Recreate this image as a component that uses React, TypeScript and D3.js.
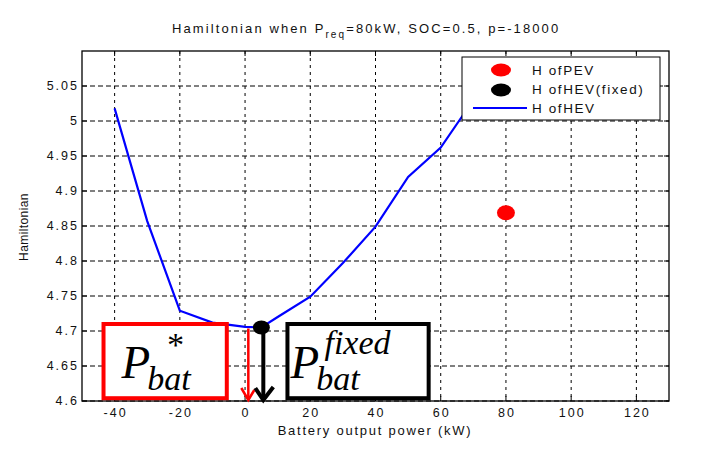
import React from 'react';
import * as d3 from 'd3';

// Hamiltonian of the HEV over battery output power (kW)
const hevPower = [-40, -30, -20, -10, 0, 5, 10, 20, 30, 40, 50, 60, 70];
const hevH = [5.018, 4.857, 4.729, 4.712, 4.706, 4.705, 4.72, 4.749, 4.797, 4.849, 4.92, 4.962, 5.03];

// single points
const pevPoint = [80, 4.869];
const fixedPoint = [5, 4.705];

// tick values
const xTicks = [-40, -20, 0, 20, 40, 60, 80, 100, 120];
const yTicks = [4.6, 4.65, 4.7, 4.75, 4.8, 4.85, 4.9, 4.95, 5, 5.05];

// annotation boxes in data units: [x0, x1, y0, y1]
const optBox = [-43.4, -5.6, 4.604, 4.71];
const fixedBox = [13, 56.3, 4.604, 4.71];
const optArrowX = 1;
const fixedArrowX = 5.6;

const W = 701;
const H = 456;
const margin = { left: 82, right: 32, top: 51, bottom: 55 };
const sans = '"Liberation Sans", Arial, sans-serif';
const serif = '"Liberation Serif", "Times New Roman", serif';

const App = () => {
    const x = d3.scaleLinear().domain([-50, 130]).range([margin.left, W - margin.right]);
    const y = d3.scaleLinear().domain([4.6, 5.1]).range([H - margin.bottom, margin.top]);

    const line = d3.line<number>()
        .x((d, i) => x(hevPower[i]))
        .y(d => y(d));

    const x0 = x.range()[0], x1 = x.range()[1];
    const y0 = y.range()[0], y1 = y.range()[1];

    const boxRect = (b: number[]) => ({
        x: x(b[0]), y: y(b[3]), width: x(b[1]) - x(b[0]), height: y(b[2]) - y(b[3])
    });
    const rb = boxRect(optBox);
    const fb = boxRect(fixedBox);

    // legend geometry
    const lg = { x: 462, y: 57, w: 198, h: 63 };

    return (
        <svg width={W} height={H} style={{ position: 'absolute', left: 0, top: 0, background: '#fff' }}>
            <defs>
                <clipPath id="plot">
                    <rect x={x0} y={y1} width={x1 - x0} height={y0 - y1} />
                </clipPath>
            </defs>

            {/* title */}
            <text x={172} y={33} fontFamily={sans} fontSize={13} letterSpacing={2.1} fill="#111">
                Hamiltonian when P<tspan dy={5} fontSize={10}>req</tspan><tspan dy={-5}>=80kW, SOC=0.5, p=-18000</tspan>
            </text>

            {/* grid */}
            {xTicks.map(t => (
                <line key={'gx' + t} x1={x(t)} x2={x(t)} y1={y1} y2={y0}
                    stroke="#000" strokeWidth={1} strokeDasharray="3,4" />
            ))}
            {yTicks.map(t => (
                <line key={'gy' + t} x1={x0} x2={x1} y1={y(t)} y2={y(t)}
                    stroke="#000" strokeWidth={1} strokeDasharray="5,3" />
            ))}

            {/* axes box + ticks */}
            <rect x={x0} y={y1} width={x1 - x0} height={y0 - y1} fill="none" stroke="#000" strokeWidth={1.3} />
            {xTicks.map(t => (
                <g key={'tx' + t}>
                    <line x1={x(t)} x2={x(t)} y1={y0} y2={y0 - 5} stroke="#000" />
                    <line x1={x(t)} x2={x(t)} y1={y1} y2={y1 + 5} stroke="#000" />
                    <text x={x(t) + 1} y={417} textAnchor="middle" fontFamily={sans} fontSize={12.5}
                        letterSpacing={2} fill="#111">{t}</text>
                </g>
            ))}
            {yTicks.map(t => (
                <g key={'ty' + t}>
                    <line x1={x0} x2={x0 + 5} y1={y(t)} y2={y(t)} stroke="#000" />
                    <line x1={x1} x2={x1 - 5} y1={y(t)} y2={y(t)} stroke="#000" />
                    <text x={79} y={y(t) + 4} textAnchor="end" fontFamily={sans} fontSize={12.5}
                        letterSpacing={2} fill="#111">{d3.format('')(+t.toFixed(2))}</text>
                </g>
            ))}

            {/* axis labels */}
            <text x={375} y={435} textAnchor="middle" fontFamily={sans} fontSize={13}
                letterSpacing={1.75} fill="#111">Battery output power (kW)</text>
            <text transform="translate(28,227) rotate(-90)" textAnchor="middle" fontFamily={sans}
                fontSize={12} letterSpacing={0.4} fill="#111">Hamiltonian</text>

            {/* data */}
            <g clipPath="url(#plot)">
                <path d={line(hevH) || ''} fill="none" stroke="#0000ff" strokeWidth={2.2} />
                <ellipse cx={x(pevPoint[0])} cy={y(pevPoint[1])} rx={9} ry={7.5} fill="#ff0000" />
            </g>

            {/* annotation arrows */}
            <line x1={x(optArrowX)} x2={x(optArrowX)} y1={y(fixedPoint[1]) + 1} y2={y0 - 1}
                stroke="#ff0000" strokeWidth={2.5} />
            <polyline points={`${x(optArrowX) - 7},${y0 - 13} ${x(optArrowX)},${y0 - 1} ${x(optArrowX) + 6},${y0 - 11}`}
                fill="none" stroke="#ff0000" strokeWidth={2.5} />
            <line x1={x(fixedArrowX)} x2={x(fixedArrowX)} y1={y(fixedPoint[1])} y2={y0 - 1}
                stroke="#000" strokeWidth={4} />
            <polyline points={`${x(fixedArrowX) - 8},${y0 - 13} ${x(fixedArrowX)},${y0 - 1} ${x(fixedArrowX) + 10},${y0 - 14}`}
                fill="none" stroke="#000" strokeWidth={4} />
            <ellipse cx={x(fixedPoint[0])} cy={y(fixedPoint[1])} rx={8.5} ry={7} fill="#000" />

            {/* annotation boxes */}
            <rect {...rb} fill="#fff" stroke="#ff0000" strokeWidth={4} />
            <text x={rb.x + 18} y={378} fontFamily={serif} fontStyle="italic" fontSize={47} fill="#000">
                P<tspan fontSize={34} dx={-3} dy={12}>bat</tspan>
            </text>
            <text x={rb.x + 62} y={356} fontFamily={serif} fontStyle="italic" fontSize={34} fill="#000">*</text>

            <rect {...fb} fill="#fff" stroke="#000" strokeWidth={4} />
            <text x={fb.x + 3} y={378} fontFamily={serif} fontStyle="italic" fontSize={47} fill="#000">
                P<tspan fontSize={34} dx={-3} dy={12}>bat</tspan>
            </text>
            <text x={fb.x + 37} y={354} fontFamily={serif} fontStyle="italic" fontSize={34} fill="#000">fixed</text>

            {/* legend */}
            <rect x={lg.x} y={lg.y} width={lg.w} height={lg.h} fill="#fff" stroke="#000" strokeWidth={1} />
            <ellipse cx={501} cy={70} rx={10} ry={6.5} fill="#ff0000" />
            <ellipse cx={501} cy={90} rx={10} ry={6.5} fill="#000" />
            <line x1={473} x2={527} y1={108} y2={108} stroke="#0000ff" strokeWidth={2} />
            {['H ofPEV', 'H ofHEV(fixed)', 'H ofHEV'].map((s, i) => (
                <text key={s} x={532} y={75 + i * 19} fontFamily={sans} fontSize={13.5}
                    letterSpacing={1.6} fill="#111">{s}</text>
            ))}
        </svg>
    );
};

export default App;
